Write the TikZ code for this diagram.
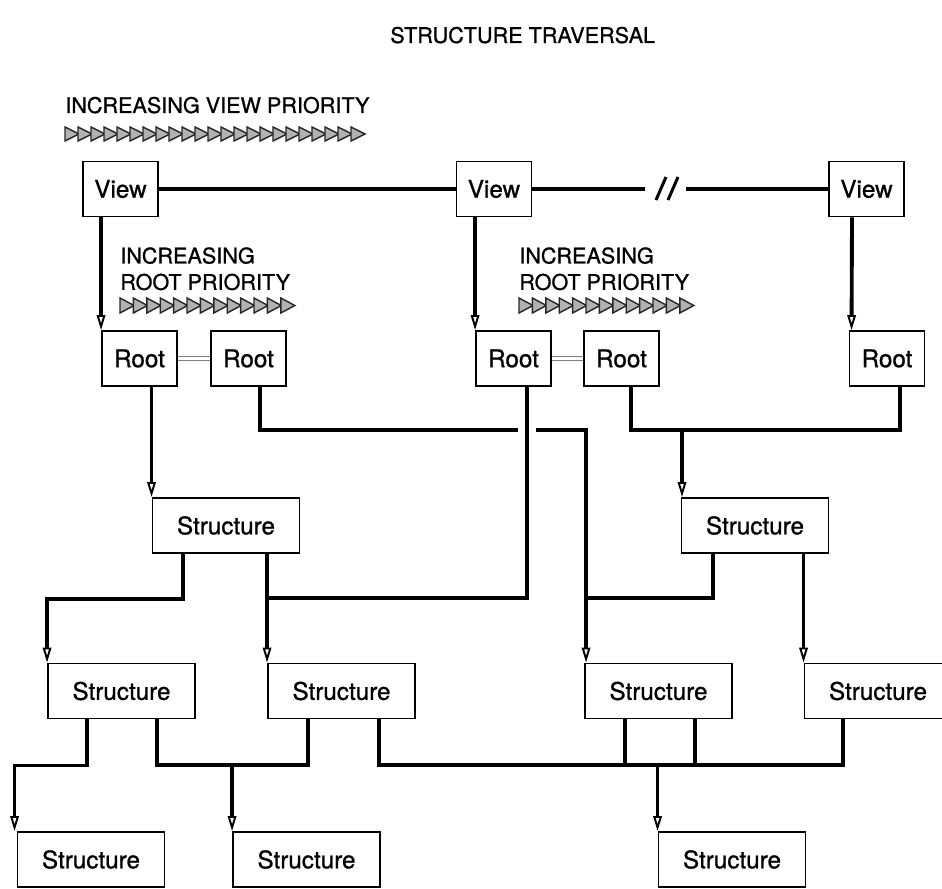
\documentclass[tikz,border=0pt]{standalone}
\usepackage{fontspec}
\setmainfont{TeX Gyre Heros}[FakeBold=0.9, AutoFakeBold=0.9]
\usetikzlibrary{arrows.meta,calc}

\begin{document}
\begin{tikzpicture}[x=0.02cm, y=-0.02cm]
		\tikzstyle{every node}=[font=\fontsize{12.3}{15}\selectfont\bfseries, inner sep=0pt]
		\tikzstyle{box}=[draw, line width=1.1pt, minimum height=1.1cm, font=\fontsize{13.8}{15}\selectfont\bfseries]
		\tikzstyle{small}=[box, minimum width=1.5cm]
		\tikzstyle{wide}=[box, minimum width=2.94cm]
		\tikzstyle{link}=[line width=2.4pt]
		\tikzstyle{feed}=[line width=2.2pt, -{Triangle[open, length=0.3cm, width=0.17cm, line width'=1.1pt]}]
		\tikzstyle{peer}=[draw=gray, double=white, line width=0.6pt, double distance=1.3pt]
		\tikzstyle{tri}=[fill=gray!60, draw=black!85, line width=0.8pt]
		\useasboundingbox (0,0) rectangle (942,888);
		\node[anchor=base west] (title) at (390,43) {STRUCTURE TRAVERSAL};
		\node[anchor=base west] (vp) at (65,113) {INCREASING VIEW PRIORITY};
		\node[anchor=north west, align=left] (rp1) at (120,247) {INCREASING\\ROOT PRIORITY};
		\node[anchor=north west, align=left] (rp2) at (519,247) {INCREASING\\ROOT PRIORITY};
		\foreach \i in {0,...,22} \draw[tri] (65+13*\i,127) -- ++(14,7) -- ++(-14,7) -- cycle;
		\foreach \i in {0,...,12} \draw[tri] (120+13.4*\i,298) -- ++(14,7.5) -- ++(-14,7.5) -- cycle;
		\foreach \i in {0,...,12} \draw[tri] (519+13.4*\i,298) -- ++(14,7.5) -- ++(-14,7.5) -- cycle;
		\node[small] (v1) at (120.5,189) {View};
		\node[small] (v2) at (494,189) {View};
		\node[small] (v3) at (866.5,189) {View};
		\node[small] (r1) at (139.5,358.5) {Root};
		\node[small] (r2) at (248.5,358.5) {Root};
		\node[small] (r3) at (513.5,358.5) {Root};
		\node[small] (r4) at (621.5,358.5) {Root};
		\node[small] (r5) at (887,358.5) {Root};
		\node[wide] (sa) at (226,525.5) {Structure};
		\node[wide] (sb) at (755,525.5) {Structure};
		\node[wide] (c1) at (121.5,691) {Structure};
		\node[wide] (c2) at (341.5,691) {Structure};
		\node[wide] (c3) at (658.5,691) {Structure};
		\node[wide] (c4) at (878,691) {Structure};
		\node[wide] (d1) at (91,859.5) {Structure};
		\node[wide] (d2) at (306.5,859.5) {Structure};
		\node[wide] (d3) at (732,859.5) {Structure};
		\coordinate (brk1) at (645,189);
		\coordinate (brk2) at (686,189);
		\draw[link] (v1) -- (v2);
		\draw[link] (v2) -- (brk1);
		\draw[link] (brk2) -- (v3);
		\draw[line width=1.7pt] (656,200) -- (666,177) (668,200) -- (678,177);
		\draw[feed] (v1.south -| r1.north west) -- (r1.north west);
		\draw[feed] (v2.south -| r3.north west) -- (r3.north west);
		\draw[feed] ($(v3.south)+(-14.5,0)$) -- ($(r5.north west)+(3,0)$);
		\draw[peer] (r1) -- (r2);
		\draw[peer] (r3) -- (r4);
		\draw[feed] (r1.south -| sa.north west) -- (sa.north west);
		\coordinate (g1) at (518,430);
		\coordinate (g2) at (536,430);
		\draw[link] ($(r2.south)+(11.5,0)$) |- (g1);
		\draw[feed] (g2) -| ($(c3.north west)+(2,0)$);
		\coordinate (jb) at (682,430);
		\draw[link] ($(r4.south)+(9.5,0)$) |- (jb) -| ($(r5.south)+(13,0)$);
		\draw[feed] (jb) -- (jb |- sb.north);
		\coordinate (ja) at (c2.north west |- 0,598);
		\draw[link] ($(r3.south)+(13.5,0)$) |- (ja);
		\draw[feed] (sa.south -| c2.north west) -- (c2.north west);
		\draw[feed] ($(sa.south)+(-43,0)$) -- ++(0,45) -| (c1.north west);
		\draw[link] ($(sb.south)+(-42,0)$) |- (587,598);
		\draw[feed] (sb.south -| c4.north west) -- (c4.north west);
		\draw[feed] ($(c1.south)+(-34.5,0)$) -- ++(0,46) -| ($(d1.north west)+(-2,0)$);
		\coordinate (jc) at (d2.north west |- 0,765);
		\draw[link] ($(c1.south)+(35.5,0)$) |- (jc) -| ($(c2.south)+(-33.5,0)$);
		\draw[feed] (jc) -- (d2.north west);
		\coordinate (jd) at (d3.north west |- 0,765);
		\draw[link] ($(c2.south)+(37.5,0)$) |- (jd) -| ($(c4.south)+(-35,0)$);
		\draw[link] ($(c3.south)+(-33.5,0)$) -- ++(0,46);
		\draw[link] ($(c3.south)+(36.5,0)$) -- ++(0,46);
		\draw[feed] (jd) -- (d3.north west);
	\end{tikzpicture}
\end{document}
